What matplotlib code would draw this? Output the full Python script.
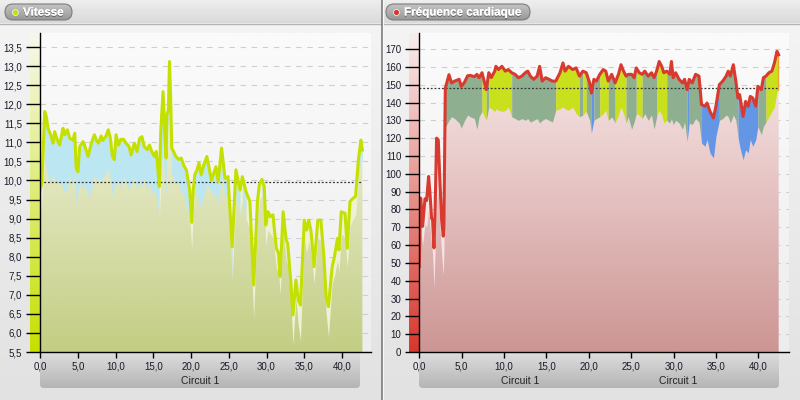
import numpy as np
import matplotlib
matplotlib.use('Agg')
import matplotlib.pyplot as plt
import matplotlib.patheffects as pe
from matplotlib.patches import FancyBboxPatch, Polygon, Circle
from matplotlib.colors import LinearSegmentedColormap
from matplotlib.ticker import FuncFormatter, MultipleLocator

plt.rcParams['font.family'] = ['Liberation Sans', 'DejaVu Sans']

# ---- Vitesse (km parcourus, vitesse, bas de bande) ----
dist_v = [0, 0.26, 0.62, 0.84, 1.06, 1.5, 1.72, 1.94, 2.3, 2.6, 3.05, 3.27, 3.62, 3.93,
          4.37, 4.6, 4.8, 5.03, 5.25, 5.7, 5.9, 6.37, 6.8, 7.2, 7.45, 7.75, 8.1, 8.3,
          8.7, 9.05, 9.3, 9.6, 9.85, 10.07, 10.4, 10.7, 11.06, 11.4, 11.8, 12.07, 12.5,
          12.85, 13.2, 13.5, 13.8, 14.2, 14.5, 14.8, 15.15, 15.4, 15.5, 15.8, 16.0, 16.3,
          16.5, 16.7, 16.8, 17.0, 17.15, 17.3, 17.45, 17.7, 18.0, 18.4, 18.7, 19.1, 19.4,
          19.82, 20.1, 20.3, 20.5, 20.8, 21.05, 21.35, 21.7, 22.1, 22.7, 23.3, 23.6,
          24.05, 24.5, 24.9, 25.45, 25.95, 26.5, 26.8, 27.3, 27.8, 28.3, 28.8, 29.05,
          29.4, 29.7, 29.9, 30.2, 30.5, 30.85, 31.3, 31.6, 31.8, 32.2, 32.6, 32.8, 33.2,
          33.5, 33.9, 34.2, 34.5, 35.0, 35.3, 35.6, 35.9, 36.3, 36.8, 37.2, 37.6, 37.9,
          38.2, 38.7, 39.0, 39.4, 39.6, 39.9, 40.4, 40.7, 41.05, 41.5, 41.8, 42.15,
          42.5, 42.7]
vitesse = [9.75, 9.93, 11.81, 11.68, 11.37, 11.15, 10.98, 11.28, 11.06, 10.93, 11.37,
           11.2, 11.33, 11.11, 11.06, 11.24, 10.32, 10.23, 10.89, 11.02, 10.93, 10.63,
           10.98, 11.2, 11.06, 10.98, 11.17, 11.05, 11.15, 11.33, 11.13, 10.63, 10.55,
           11.2, 10.93, 11.08, 11.08, 10.98, 10.89, 10.67, 10.98, 10.76, 11.11, 11.15,
           10.89, 10.81, 10.93, 10.76, 10.63, 10.76, 10.55, 9.84, 11.33, 12.33, 11.33,
           10.59, 11.72, 11.85, 13.12, 12.2, 10.85, 10.76, 10.63, 10.55, 10.59, 10.37,
           10.27, 9.75, 8.9, 9.75, 10.15, 10.28, 10.46, 10.15, 10.41, 10.63, 10.01,
           10.36, 9.97, 10.85, 10.06, 10.1, 8.26, 10.28, 9.75, 10.1, 9.7, 9.45, 7.26,
           9.45, 9.89, 10.03, 9.84, 8.83, 9.18, 9.05, 9.1, 8.22, 8.09, 7.48, 9.18, 8.44,
           8.35, 7.39, 6.47, 7.39, 6.86, 6.73, 8.96, 8.7, 8.96, 8.66, 7.74, 8.96, 8.96,
           8.0, 6.95, 6.69, 7.74, 8.0, 8.48, 8.18, 9.18, 9.14, 8.22, 9.45, 9.54, 9.58,
           10.5, 11.06, 10.8]
vitesse_bas = [9.0, 9.5, 10.54, 10.28, 10.1, 9.93, 10.19, 10.02, 9.93, 9.97, 9.84, 9.67,
               9.75, 10.1, 9.93, 10.1, 9.31, 9.75, 9.93, 9.75, 9.93, 9.58, 9.75, 10.15,
               9.97, 10.1, 9.93, 10.06, 10.19, 10.32, 10.02, 9.54, 9.93, 9.84, 10.02, 9.8,
               10.1, 9.93, 9.75, 9.93, 10.06, 9.75, 9.97, 9.84, 10.06, 9.75, 9.93, 9.67,
               9.75, 9.58, 9.5, 8.96, 9.93, 11.0, 10.0, 9.6, 11.0, 11.5, 11.7, 11.0, 10.2,
               10.0, 10.0, 9.9, 9.7, 9.6, 9.3, 9.0, 8.2, 9.2, 9.5, 9.7, 9.4, 9.3, 9.6, 9.9,
               9.7, 9.6, 9.4, 10.1, 9.6, 9.5, 7.4, 9.6, 9.1, 9.5, 9.0, 8.7, 6.4, 9.0, 9.5,
               9.6, 9.4, 8.3, 8.7, 8.6, 8.5, 7.7, 7.6, 7.0, 8.7, 7.9, 7.8, 6.9, 5.7, 6.9,
               6.2, 5.8, 8.5, 8.1, 8.4, 8.1, 7.3, 8.5, 8.4, 7.5, 6.5, 5.9, 7.3, 7.5, 7.9,
               7.6, 8.6, 8.5, 7.7, 8.8, 9.0, 9.1, 9.9, 10.7, 10.5]
vitesse_moy = 9.95

# ---- Fréquence cardiaque ----
dist_fc = [0.0, 0.16, 0.39, 0.67, 0.86, 1.1, 1.26, 1.45, 1.57, 1.73, 1.85, 2.04, 2.24,
           2.44, 2.64, 2.83, 2.9, 3.07, 3.5, 3.8, 4.17, 4.7, 4.95, 5.35, 5.7, 6.0, 6.5,
           6.8, 7.05, 7.4, 7.6, 7.9, 8.2, 8.5, 8.9, 9.04, 9.35, 9.75, 10.15, 10.5, 10.9,
           11.3, 11.7, 12.1, 12.5, 12.8, 13.1, 13.5, 13.9, 14.2, 14.5, 14.9, 15.3, 15.7,
           16.1, 16.6, 16.95, 17.2, 17.6, 18.1, 18.5, 18.9, 19.3, 19.7, 20.1, 20.3, 20.6,
           20.9, 21.3, 21.7, 22.0, 22.3, 22.7, 23.1, 23.5, 23.8, 24.1, 24.4, 24.65, 25.05,
           25.35, 25.6, 25.95, 26.3, 26.6, 27.0, 27.4, 27.7, 28.0, 28.3, 28.6, 28.85,
           29.2, 29.55, 29.75, 29.95, 30.25, 30.65, 31.05, 31.3, 31.6, 31.85, 32.2, 32.6,
           33.0, 33.3, 33.7, 33.95, 34.3, 34.7, 35.0, 35.4, 35.8, 36.2, 36.45, 36.7,
           37.05, 37.35, 37.6, 37.8, 38.2, 38.5, 38.8, 39.05, 39.35, 39.7, 39.95, 40.35,
           40.6, 40.9, 41.25, 41.6, 41.9, 42.2, 42.4]
fc = [48, 86.4, 70.5, 86, 85, 98.5, 89, 75, 74, 58.4, 76, 120, 119, 94.8, 74, 65, 70,
      148, 155.6, 151, 152, 153, 149, 151.5, 155, 155.2, 154.5, 155.8, 153.9, 156.7, 153,
      147.2, 156.7, 154, 157.6, 160.3, 158.5, 160.3, 157.6, 158.5, 156.7, 155.8, 153.9,
      154.8, 156.7, 157.6, 154.8, 153, 154.8, 160.3, 152, 153.9, 153, 152, 152, 156.7,
      162.2, 157.6, 160.3, 158.5, 159.4, 154.8, 157.6, 156.7, 151, 145.3, 153, 152,
      155.8, 158.5, 157.6, 152, 155.8, 151, 155.8, 161.2, 157.6, 154.8, 155.8, 155.8,
      153.9, 159.4, 156.7, 155.8, 157.6, 154.8, 156.7, 153.9, 157.6, 163, 160.3, 156.7,
      157.6, 155.8, 163, 153.9, 156.7, 153, 151, 153, 147.2, 153, 151, 155.8, 154.8,
      138.8, 137.9, 139.7, 135, 131.3, 137.9, 150, 152, 154.8, 157.6, 154.8, 161.2, 152,
      142.5, 144.4, 132.2, 140.6, 137.9, 143.4, 142.5, 137.9, 149.1, 147.2, 153.9, 154.8,
      156.7, 157.6, 162.2, 168.7, 166.8]
fc_bas = [47, 70, 60, 72, 70, 80, 70, 60, 55, 36, 55, 85, 90, 70, 55, 43, 55, 126, 130,
          132, 131, 128.5, 125.7, 130, 133, 132, 131, 125, 132, 135, 133, 130, 137.5,
          136.5, 135, 136.5, 135.6, 135, 135.6, 137.5, 132, 131, 130, 131, 130, 131, 129,
          130, 131, 128.5, 130, 131, 130, 129, 135.6, 136.5, 137.5, 136.5, 135.6, 137.5,
          133.8, 132, 133, 135, 130, 122.9, 130, 131, 132, 133.8, 135.6, 130, 132, 128.5,
          133, 137.5, 133.8, 128.5, 132, 125, 129, 133.8, 133, 131, 133.8, 130, 133, 125,
          132, 135.6, 133, 128.5, 130, 128.5, 131, 127.6, 130, 128.5, 125, 129, 118.2,
          128.5, 127.6, 131, 129, 117.3, 115.4, 119.2, 111.7, 108.9, 121, 130, 131, 133,
          132, 128.5, 133, 130, 121, 115.4, 107.9, 113.5, 111.7, 119.2, 115.4, 119.2,
          126.6, 122, 126.6, 129, 132, 135, 137.5, 146.2, 147.2]
# zone de couleur de chaque point (p pâle, g vert, y jaune, b bleu, o orange)
zones_fc = list('p' * 17 + 'g' * 12 + 'yy' + 'g' + 'y' * 8 + 'g' * 14 + 'y' * 7 + 'g' + 'y'
                + 'gg' + 'b' + 'gg' + 'yyy' + 'gg' + 'yyyy' + 'gggg' + 'yy' + 'ggggg'
                + 'yyyy' + 'g' * 8 + 'b' + 'g' * 4 + 'b' * 6 + 'g' * 7 + 'b' * 8 + 'ggg'
                + 'yyyy' + 'oo')
fc_moy = 148

couleurs_fc = {'p': '#f5e4e4', 'g': '#8fb090', 'y': '#c9e01c', 'b': '#6496e6', 'o': '#f0a428'}
couleurs_v = {'b': '#bde6f3', 'p': '#eef1d4'}


def vgrad(ax, x0, x1, ytop, ybot, ctop, cbot, zorder=0, clip=None):
    cmap = LinearSegmentedColormap.from_list('g', [ctop, cbot])
    arr = np.linspace(0, 1, 200)[:, None]
    im = ax.imshow(arr, cmap=cmap, extent=[x0, x1, ybot, ytop], origin='upper',
                   aspect='auto', interpolation='bilinear', zorder=zorder)
    if clip is not None:
        im.set_clip_path(clip)
    return im


def bandes(ax, t, lo, hi, zones, couleurs):
    n = len(t)
    i = 0
    while i < n - 1:
        j = i
        while j + 1 < n - 1 and zones[j + 1] == zones[i]:
            j += 1
        s = slice(i, j + 2)
        ax.fill_between(t[s], lo[s], hi[s], color=couleurs[zones[i]], lw=0, zorder=3)
        i = j + 1


def virgule(x, pos, fmt):
    return fmt.format(x).replace('.', ',')


fig = plt.figure(figsize=(8, 4), dpi=100)
bg = fig.add_axes([0, 0, 1, 1])
bg.axis('off')

# fonds des panneaux
vgrad(bg, 0, 800, 23, 400, '#f4f4f4', '#e2e2e2')
vgrad(bg, 0, 800, 0, 23, '#efefef', '#d9d9d9')
bg.plot([0, 800], [23.5, 23.5], color='#b5b5b5', lw=1)
bg.plot([381.5, 381.5], [0, 400], color='#7a7a7a', lw=1.2)
bg.plot([383, 383], [0, 400], color='#f8f8f8', lw=0.8)

# zones de tracé
vgrad(bg, 40, 371, 33, 352, '#fbfbfb', '#ededed')
vgrad(bg, 419, 789, 33, 352, '#fbfbfb', '#ededed')
vgrad(bg, 30, 40, 33, 352, '#f7f8ec', '#c6e000', zorder=1)
vgrad(bg, 409, 419, 33, 352, '#f8eded', '#d8372d', zorder=1)

# barres d'axe x
for x0, x1 in [(40, 360), (419, 779)]:
    box = FancyBboxPatch((x0, 340), x1 - x0, 48, boxstyle='round,pad=0,rounding_size=4',
                         facecolor='none', edgecolor='none')
    bg.add_patch(box)
    vgrad(bg, x0, x1, 352, 389, '#dedede', '#b3b3b3', zorder=1, clip=box)
bg.text(200, 381, 'Circuit 1', ha='center', va='center', fontsize=7.5, color='#222222', zorder=5)
bg.text(520, 381, 'Circuit 1', ha='center', va='center', fontsize=7.5, color='#222222', zorder=5)
bg.text(678, 381, 'Circuit 1', ha='center', va='center', fontsize=7.5, color='#222222', zorder=5)

# pastilles de titre
ombre = [pe.withSimplePatchShadow(offset=(0, -1), shadow_rgbFace='#444444', alpha=0.6), pe.Normal()]
for x0, x1, titre, coul in [(5, 72, 'Vitesse', '#c6e000'), (386, 530, 'Fréquence cardiaque', '#d8372d')]:
    pill = FancyBboxPatch((x0, 4), x1 - x0, 16, boxstyle='round,pad=0,rounding_size=8',
                          facecolor='none', edgecolor='#7d7d7d', lw=0.8, zorder=4)
    bg.add_patch(pill)
    vgrad(bg, x0, x1, 4, 20, '#c4c4c4', '#979797', zorder=3, clip=pill)
    bg.add_patch(Circle((x0 + 10.5, 12.5), 3, facecolor=coul, edgecolor='#eeeeee', lw=0.6, zorder=5))
    bg.text(x0 + 18, 12.5, titre, ha='left', va='center', fontsize=8.4, fontweight='bold',
            color='white', zorder=6, path_effects=ombre)

bg.set_xlim(0, 800)
bg.set_ylim(400, 0)

# ---- panneau vitesse ----
axL = fig.add_axes([40 / 800, 48 / 400, 331 / 800, 319 / 400])
axL.patch.set_alpha(0)
t = np.array(dist_v)
v = np.array(vitesse)
vb = np.array(vitesse_bas)
ymin_v = 5.5
verts = np.column_stack([np.r_[t[0], t, t[-1]], np.r_[ymin_v, v, ymin_v]])
clipL = Polygon(verts, closed=True, facecolor='none', edgecolor='none', transform=axL.transData)
axL.add_patch(clipL)
vgrad(axL, t[0], t[-1], 13.0, ymin_v, '#f5f6e4', '#c3ce84', zorder=2, clip=clipL)
zones_v = ['b' if x > vitesse_moy else 'p' for x in v]
bandes(axL, t, vb, v, zones_v, couleurs_v)
axL.plot([t[0], t[-1]], [vitesse_moy, vitesse_moy], color='#333333', lw=0.9, ls=(0, (1.5, 1.5)), zorder=4)
axL.plot(t, v, color='#c4e000', lw=2.2, zorder=5, solid_joinstyle='round')
axL.set_xlim(0, 43.84)
axL.set_ylim(5.5, 13.87)
axL.yaxis.set_major_locator(MultipleLocator(0.5))
axL.xaxis.set_major_locator(MultipleLocator(5))
axL.yaxis.set_major_formatter(FuncFormatter(lambda x, p: virgule(x, p, '{:.1f}')))
axL.xaxis.set_major_formatter(FuncFormatter(lambda x, p: virgule(x, p, '{:.1f}')))

# ---- panneau fréquence cardiaque ----
axR = fig.add_axes([419.3 / 800, 48 / 400, 369.7 / 800, 319 / 400])
axR.patch.set_alpha(0)
t2 = np.array(dist_fc)
h = np.array(fc)
hb = np.array(fc_bas)
verts2 = np.column_stack([np.r_[t2[0], t2, t2[-1]], np.r_[0, h, 0]])
clipR = Polygon(verts2, closed=True, facecolor='none', edgecolor='none', transform=axR.transData)
axR.add_patch(clipR)
vgrad(axR, t2[0], t2[-1], 165, 0, '#f8e8e8', '#cd9694', zorder=2, clip=clipR)
bandes(axR, t2, hb, h, zones_fc, couleurs_fc)
axR.plot([t2[0], t2[-1]], [fc_moy, fc_moy], color='#333333', lw=0.9, ls=(0, (1.5, 1.5)), zorder=4)
axR.plot(t2, h, color='#d83a30', lw=2.2, zorder=5, solid_joinstyle='round')
axR.set_xlim(0, 43.62)
axR.set_ylim(0, 179)
axR.yaxis.set_major_locator(MultipleLocator(10))
axR.xaxis.set_major_locator(MultipleLocator(5))
axR.yaxis.set_major_formatter(FuncFormatter(lambda x, p: '{:.0f}'.format(x)))
axR.xaxis.set_major_formatter(FuncFormatter(lambda x, p: virgule(x, p, '{:.1f}')))

for ax in (axL, axR):
    for s in ('top', 'right'):
        ax.spines[s].set_visible(False)
    for s in ('left', 'bottom'):
        ax.spines[s].set_color('black')
        ax.spines[s].set_linewidth(1)
        ax.spines[s].set_zorder(6)
    ax.grid(axis='y', color='#cfcfcf', lw=0.8, ls=(0, (5, 5)), zorder=1)
    ax.set_axisbelow(True)
    ax.tick_params(axis='y', length=10, width=1, pad=3, labelsize=7, labelcolor='#1a1a2a')
    ax.tick_params(axis='x', length=4, width=1, pad=3, labelsize=7, labelcolor='#1a1a2a')

fig.savefig('out.png', dpi=100)
